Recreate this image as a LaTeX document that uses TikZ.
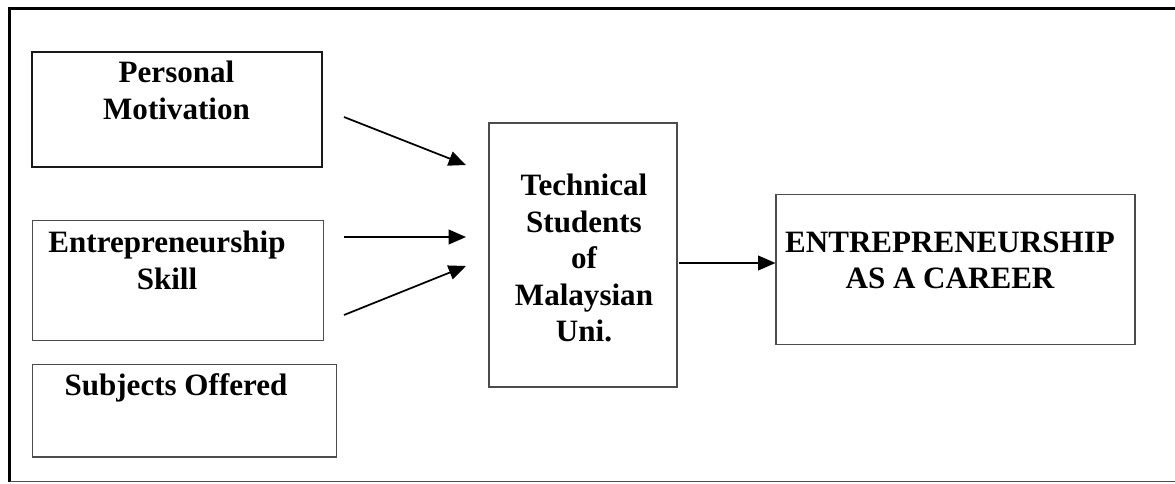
\documentclass[tikz,border=0pt]{standalone}
\usepackage{fontspec}
\setmainfont{Liberation Serif}
\usetikzlibrary{arrows.meta}
\begin{document}
\begin{tikzpicture}[x=0.75pt,y=-0.75pt,
  box/.style={draw=black!70, line width=0.8pt, rectangle, inner sep=0pt},
  boldbox/.style={draw=black!90, line width=1.6pt, rectangle, inner sep=0pt},
  lbl/.style={font=\fontsize{23.3}{27.4}\selectfont\bfseries, align=center, inner sep=0pt, anchor=north},
  arr/.style={line width=1.3pt, -{Triangle[length=13pt,width=11pt]}}]
\useasboundingbox (0,0) rectangle (1175,483);

% outer frame
\draw[line width=2.4pt] (1180,8.5) -- (9.8,8.5) -- (9.8,481.5);
\draw[black!70, line width=1.1pt] (9.8,481.5) -- (1180,481.5);

% boxes
\node[boldbox, minimum width=217.3pt, minimum height=86.25pt] (pm) at (176.9,109.5) {};
\node[box, minimum width=218.1pt, minimum height=90pt] (es) at (177.9,280.7) {};
\node[box, minimum width=227.6pt, minimum height=69.4pt] (so) at (184.3,410.7) {};
\node[box, minimum width=141pt, minimum height=198pt] (ts) at (583,255) {};
\node[box, minimum width=269.25pt, minimum height=112.7pt] (ec) at (955.5,269.8) {};

% labels
\node[lbl] (pmt) at (176.5,61) {Personal\\Motivation};
\node[lbl] (est) at (167,231) {Entrepreneurship\\Skill};
\node[lbl] (sot) at (176,373.6) {Subjects Offered};
\node[lbl] (tst) at (584,174) {Technical\\Students\\of\\Malaysian\\Uni.};
\node[lbl] (ect) at (950,231.5) {ENTREPRENEURSHIP\\AS A CAREER};

% connector ends
\coordinate (a1s) at (344,117);
\coordinate (a1e) at (466,165);
\coordinate (a2s) at (344,237);
\coordinate (a2e) at (466,237);
\coordinate (a3s) at (344,315);
\coordinate (a3e) at (466,266);
\coordinate (a4s) at (679,263);

\draw[arr] (a1s) -- (a1e);
\draw[arr] (a2s) -- (a2e);
\draw[arr] (a3s) -- (a3e);
\draw[arr] (a4s) -- (a4s -| ec.west);
\end{tikzpicture}
\end{document}
